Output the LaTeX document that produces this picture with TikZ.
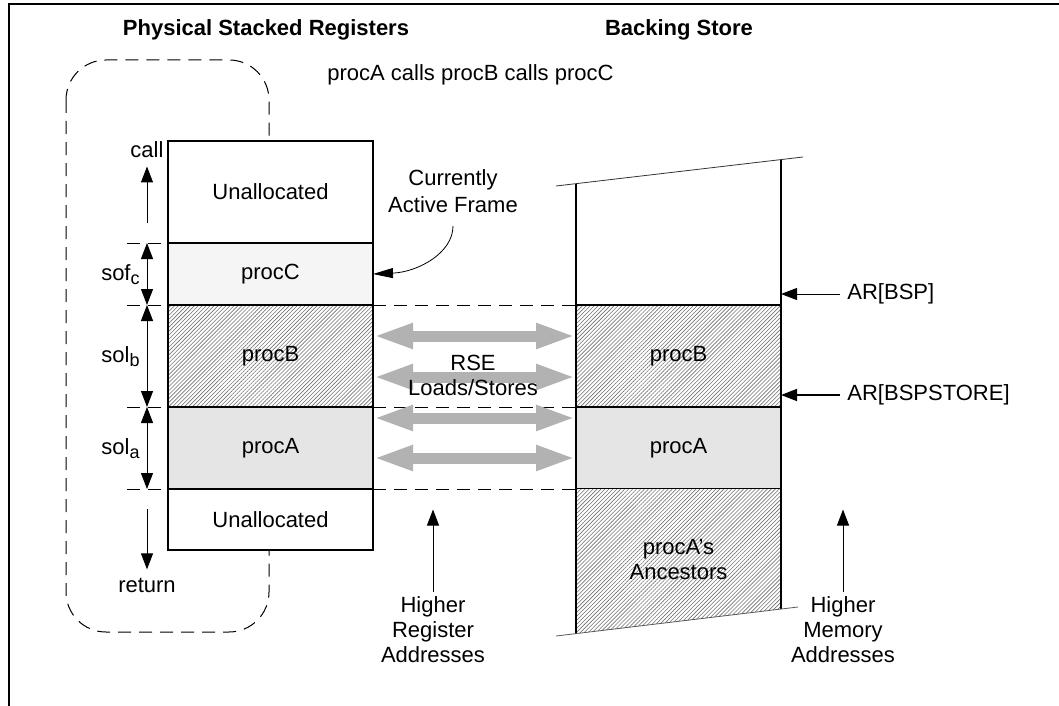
\documentclass[tikz,border=0pt]{standalone}
\usepackage{fontspec}
\setmainfont{Liberation Sans}
\usetikzlibrary{arrows.meta,positioning,patterns.meta}

\newcommand{\subs}[1]{\raisebox{-0.4ex}{\fontsize{9}{9}\selectfont #1}}

\tikzset{
    blk/.style={draw, line width=0.6pt, inner sep=0pt, outer sep=0pt, minimum width=102.5pt},
    hatch/.style={preaction={fill=white}, pattern={Lines[angle=45,distance=1.4pt,line width=0.3pt]}, pattern color=black!55},
    guide/.style={line width=0.5pt, dash pattern=on 6.5pt off 4pt},
    lbl/.style={align=center, inner sep=0pt},
    ptr/.style={line width=0.5pt, -{Triangle[length=8pt,width=6pt]}},
    dptr/.style={line width=0.5pt, {Triangle[length=8pt,width=6pt]}-{Triangle[length=8pt,width=6pt]}},
    rse/.style={line width=5.5pt, draw=black!30, {Triangle[length=20pt,width=11.5pt]}-{Triangle[length=20pt,width=11.5pt]}}
}

\begin{document}
\begin{tikzpicture}[x=0.5pt, y=-0.5pt, font=\fontsize{11}{12.5}\selectfont]
    \useasboundingbox (0,0) rectangle (1059,706);

    % Frame (only top and left edge)
    \draw[line width=0.85pt] (1059,4) -- (9,4) -- (9,706);

    % Headings
    \node[lbl] (hdreg) at (266,30) {\bfseries Physical Stacked Registers};
    \node[lbl] (hdbs) at (679,30) {\bfseries Backing Store};
    \node[lbl, anchor=west] (calls) at (327,75) {procA calls procB calls procC};

    % Dashed outline round the register stack
    \draw[guide, rounded corners=20pt] (66,60) rectangle (269,632);

    % Physical stacked registers
    \node[blk, fill=white, minimum height=51pt] (regU) at (270.5,192) {Unallocated};
    \node[blk, fill=black!4, minimum height=31pt, below=0pt of regU] (regC) {procC};
    \node[blk, hatch, minimum height=51pt, below=0pt of regC] (regB) {procB};
    \node[blk, fill=black!10, minimum height=41pt, below=0pt of regB] (regA) {procA};
    \node[blk, fill=white, minimum height=30.5pt, below=0pt of regA] (regL) {Unallocated};

    % Backing store
    \coordinate (bsTL) at (576,183.7);
    \coordinate (bsTR) at (781,159.5);
    \coordinate (bsBL) at (576,633.6);
    \coordinate (bsBR) at (781,609);
    \node[blk, hatch, minimum height=51pt] (bsB) at (678.5,356) {procB};
    \node[blk, fill=black!10, minimum height=41pt, below=0pt of bsB] (bsA) {procA};
    \path[hatch] (bsA.south west) -- (bsA.south east) -- (bsBR) -- (bsBL) -- cycle;
    \draw[line width=0.6pt] (bsTL) -- (bsB.north west) (bsTR) -- (bsB.north east)
        (bsA.south west) -- (bsBL) (bsA.south east) -- (bsBR);
    \draw[line width=0.4pt, black!80] (556,186) -- (803,157);
    \draw[line width=0.4pt, black!65] (556,636) -- (798,607);
    \node[lbl] (anc) at (678.5,560) {procA’s\\Ancestors};

    % Frame boundaries
    \draw[guide] (127,243) -- (regC.north west);
    \draw[guide] (127,305) -- (regB.north west) (regB.north east) -- (bsB.north west);
    \draw[guide] (127,407) -- (regA.north west) (regA.north east) -- (bsA.north west);
    \draw[guide] (127,489) -- (regL.north west) (regL.north east) -- (bsA.south west);

    % Frame sizes on the left
    \coordinate (ax) at (147,0);
    \node[lbl] (call) at (147,150) {call};
    \node[lbl] (ret) at (147,585) {return};
    \draw[ptr, shorten >=4pt] ([yshift=10pt]ax |- regC.north) -- (call.south);
    \draw[ptr, shorten >=4pt] ([yshift=-10pt]ax |- regL.north) -- (ret.north);
    \draw[dptr] (ax |- regC.north) -- (ax |- regC.south);
    \draw[dptr] (ax |- regB.north) -- (ax |- regB.south);
    \draw[dptr] (ax |- regA.north) -- (ax |- regA.south);
    \node[lbl, anchor=base east] (sofc) at (140,280) {sof\subs{c}};
    \node[lbl, anchor=base east] (solb) at (140,362) {sol\subs{b}};
    \node[lbl, anchor=base east] (sola) at (140,454) {sol\subs{a}};

    % RSE traffic
    \foreach \dy in {35.5,15,-5.5,-25.5}
        \draw[rse] ([yshift=\dy pt]regA.north east) -- ([yshift=\dy pt]bsA.north west);
    \node[lbl] (rsel) at (473,375) {RSE\\Loads/Stores};

    % Currently active frame
    \node[lbl, font=\fontsize{11}{13.5}\selectfont] (caf) at (453,191) {Currently\\Active Frame};
    \draw[line width=0.4pt, -{Triangle[length=10pt,width=5pt]}, shorten <=6.5pt]
        (caf.south) .. controls +(0,40) and +(45,-2) .. (regC.east);

    % Pointers into the backing store
    \node[lbl, anchor=west] (bsp) at (847,294) {AR[BSP]};
    \node[lbl, anchor=west] (bsps) at (847,395) {AR[BSPSTORE]};
    \draw[ptr, shorten <=3.5pt] (bsp.west) -- (bsp.west -| bsB.east);
    \draw[ptr, line width=0.8pt, shorten <=3.5pt] (bsps.west) -- (bsps.west -| bsB.east);

    % Address directions
    \node[lbl] (hra) at (433,630) {Higher\\Register\\Addresses};
    \node[lbl] (hma) at (843,630) {Higher\\Memory\\Addresses};
    \draw[ptr, shorten <=2.5pt] (hra.north) -- ++(0,-87);
    \draw[ptr, shorten <=2.5pt] (hma.north) -- ++(0,-87);
\end{tikzpicture}
\end{document}
